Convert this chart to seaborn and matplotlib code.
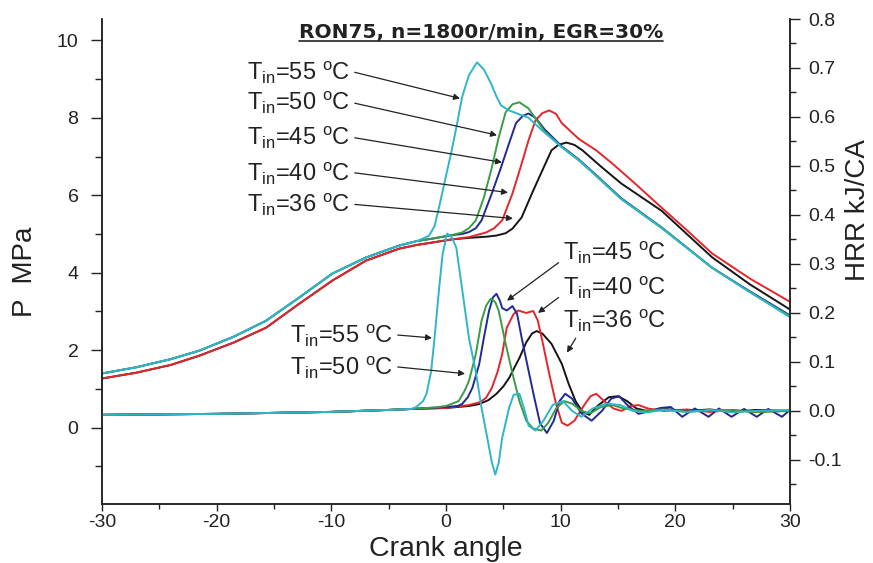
import matplotlib
matplotlib.use("Agg")
import matplotlib.pyplot as plt
from matplotlib.lines import Line2D
from matplotlib.ticker import MultipleLocator, FormatStrFormatter
import seaborn as sns
import pandas as pd

# ---------------- data ----------------
temps = ["55", "50", "45", "40", "36"]
colors = {"55": "#2db6c9", "50": "#3a9c45", "45": "#1f2a96", "40": "#e3262b", "36": "#151515"}

# compression part (shared)
comp_ca = [-30, -27, -24, -21.5, -18.5, -15.7, -12.8, -9.9, -7, -4.1, -2.5]
comp_hi = [1.40, 1.56, 1.77, 1.99, 2.35, 2.76, 3.36, 3.98, 4.39, 4.70, 4.82]
comp_lo = [1.27, 1.42, 1.62, 1.86, 2.20, 2.58, 3.20, 3.80, 4.31, 4.62, 4.72]

p55_ca = [-1.5, -1.0, -0.6, 0, 0.5, 1.0, 1.4, 2.0, 2.7, 3.3, 3.9, 4.4, 4.8, 5.5, 6.3, 7.2, 8.4, 10.1, 11.6, 13.1, 15.3, 18.8, 23.2, 26.5, 30]
p55 = [4.95, 5.2, 5.7, 6.5, 7.16, 7.9, 8.53, 9.1, 9.43, 9.25, 8.9, 8.55, 8.32, 8.19, 8.1, 8.0, 7.67, 7.24, 6.9, 6.5, 5.9, 5.15, 4.13, 3.5, 2.85]
p50_ca = [-1.2, 0.5, 1.4, 2.0, 2.6, 3.3, 4.0, 4.6, 5.2, 5.8, 6.4, 7.2, 8.0, 8.6, 10.1, 11.6, 13.1, 15.3, 18.8, 23.2, 26.5, 30]
p50 = [4.88, 4.97, 5.04, 5.15, 5.35, 5.94, 6.72, 7.5, 8.14, 8.35, 8.40, 8.24, 7.9, 7.65, 7.24, 6.9, 6.5, 5.9, 5.17, 4.13, 3.5, 2.88]
p45_ca = [-1.2, 0.5, 1.4, 2.0, 2.6, 3.1, 4.0, 4.8, 5.5, 6.1, 6.7, 7.2, 7.8, 8.6, 10.1, 11.6, 13.1, 15.3, 18.8, 23.2, 26.5, 30]
p45 = [4.88, 4.97, 5.0, 5.05, 5.15, 5.35, 6.05, 6.72, 7.34, 7.86, 8.05, 8.11, 8.0, 7.7, 7.26, 6.92, 6.52, 5.92, 5.17, 4.13, 3.52, 2.9]
p40_ca = [-1.2, 0.5, 2.0, 3.5, 4.2, 4.9, 5.8, 6.5, 7.2, 7.8, 8.4, 9.0, 9.6, 10.1, 11.6, 13.1, 14.5, 16.5, 18.8, 21, 23.2, 26.5, 30]
p40 = [4.78, 4.86, 4.92, 5.04, 5.15, 5.35, 6.05, 6.72, 7.42, 7.93, 8.12, 8.19, 8.1, 7.86, 7.45, 7.16, 6.82, 6.3, 5.68, 5.1, 4.5, 3.85, 3.25]
p36_ca = [-1.2, 0.5, 2.0, 3.5, 4.4, 5.2, 5.8, 6.6, 7.5, 8.4, 9.2, 9.8, 10.5, 11.2, 11.9, 13.6, 15.3, 18.8, 21, 23.2, 26.5, 30]
p36 = [4.78, 4.86, 4.9, 4.93, 4.96, 5.02, 5.14, 5.43, 6.05, 6.64, 7.16, 7.3, 7.36, 7.3, 7.16, 6.72, 6.3, 5.6, 5.0, 4.4, 3.7, 3.05]

# heat release rate (shared early baseline)
base_ca = [-30, -25, -20, -15, -10, -5, -3]
base_hrr = [-0.008, -0.007, -0.006, -0.004, -0.002, 0.002, 0.004]

h55_ca = [-2.6, -2.0, -1.7, -1.3, -1.0, -0.6, -0.3, 0.1, 0.5, 0.9, 1.4, 2.0, 2.6, 3.1, 3.6, 4.0, 4.3, 4.6, 4.9, 5.5, 5.9, 6.4, 6.8, 7.2, 7.8, 8.5, 9.3, 10.2, 11.0, 11.8, 12.8, 14.0, 15.2, 16.3, 17.5, 19, 21, 23, 25, 27, 30]
h55 = [0.008, 0.02, 0.035, 0.08, 0.149, 0.25, 0.32, 0.362, 0.355, 0.333, 0.25, 0.149, 0.08, 0.006, -0.055, -0.105, -0.13, -0.105, -0.055, 0.006, 0.033, 0.035, 0.006, -0.03, -0.04, -0.02, 0.012, 0.02, 0.0, -0.012, 0.005, 0.015, 0.012, 0.0, -0.003, 0.002, -0.002, 0.002, -0.003, 0.0, 0.002]
h50_ca = [-1, 0.0, 1.1, 1.6, 2.0, 2.6, 3.1, 3.5, 3.9, 4.3, 4.6, 5.2, 5.8, 6.4, 7.0, 7.6, 8.3, 8.9, 9.6, 10.3, 11.0, 11.8, 12.6, 13.5, 14.5, 15.5, 17, 19, 21, 24, 27, 30]
h50 = [0.007, 0.01, 0.02, 0.04, 0.061, 0.116, 0.184, 0.215, 0.229, 0.222, 0.204, 0.137, 0.076, 0.02, -0.02, -0.036, -0.04, -0.025, 0.005, 0.02, 0.015, 0.0, -0.005, 0.008, 0.012, 0.005, 0.0, 0.003, -0.002, 0.002, -0.002, 0.0]
h45_ca = [0, 1.0, 1.4, 1.9, 2.3, 2.9, 3.3, 3.75, 4.1, 4.4, 4.7, 4.9, 5.3, 5.8, 6.2, 6.6, 7.2, 7.7, 8.2, 8.8, 9.4, 9.9, 10.4, 11.0, 11.8, 12.7, 13.6, 14.4, 15.1, 15.9, 16.8, 17.8, 18.7, 19.6, 20.6, 21.7, 22.9, 23.8, 24.9, 26.0, 27.1, 28.1, 29.3, 30]
h45 = [0.008, 0.01, 0.014, 0.028, 0.047, 0.096, 0.149, 0.204, 0.232, 0.239, 0.225, 0.21, 0.205, 0.214, 0.198, 0.149, 0.082, 0.027, -0.025, -0.045, -0.02, 0.02, 0.035, 0.025, -0.005, -0.02, 0.0, 0.025, 0.03, 0.01, -0.006, 0.0, 0.006, 0.008, -0.012, 0.005, -0.012, 0.005, -0.012, 0.004, -0.012, 0.004, -0.012, 0.002]
h40_ca = [0, 2.0, 3.0, 3.5, 4.0, 4.5, 4.9, 5.3, 5.9, 6.3, 7.0, 7.6, 8.0, 8.4, 9.0, 9.6, 10.1, 10.6, 11.2, 12.0, 12.6, 13.1, 13.8, 14.6, 15.3, 16.1, 16.8, 17.6, 19, 21, 23, 25, 27, 30]
h40 = [0.006, 0.012, 0.018, 0.027, 0.047, 0.08, 0.116, 0.17, 0.198, 0.205, 0.2, 0.204, 0.185, 0.143, 0.076, 0.014, -0.024, -0.03, -0.02, 0.01, 0.03, 0.035, 0.02, 0.005, 0.0, 0.01, 0.012, 0.005, 0.0, 0.003, -0.002, 0.002, -0.002, 0.0]
h36_ca = [0, 2.0, 2.9, 3.7, 4.4, 5.0, 5.5, 6.0, 6.4, 7.0, 7.5, 7.9, 8.4, 9.2, 10.1, 10.7, 11.3, 11.9, 12.5, 13.2, 14.2, 15.0, 15.8, 16.6, 17.5, 19, 21, 23, 25, 27, 30]
h36 = [0.006, 0.01, 0.014, 0.022, 0.035, 0.05, 0.067, 0.09, 0.108, 0.14, 0.158, 0.163, 0.158, 0.137, 0.096, 0.055, 0.02, -0.002, -0.008, 0.01, 0.028, 0.03, 0.02, 0.005, 0.0, 0.004, 0.0, 0.003, -0.002, 0.002, 0.0]

# annotation positions: (text x, text y, arrow x, arrow y)
p_labels = {"55": (-17.35, 9.17, 1.22, 8.5), "50": (-17.35, 8.37, 4.45, 7.55),
            "45": (-17.35, 7.47, 4.88, 6.85), "40": (-17.35, 6.56, 5.41, 6.07),
            "36": (-17.35, 5.74, 5.84, 5.4)}
h_labels = {"55": (-13.6, 0.153, -1.22, 0.149), "50": (-13.6, 0.088, 1.66, 0.076),
            "45": (10.2, 0.323, 5.32, 0.225), "40": (10.2, 0.252, 8.02, 0.2),
            "36": (10.2, 0.184, 10.55, 0.119)}

p_series = {"55": (p55_ca, p55, "hi"), "50": (p50_ca, p50, "hi"), "45": (p45_ca, p45, "hi"),
            "40": (p40_ca, p40, "lo"), "36": (p36_ca, p36, "lo")}
h_series = {"55": (h55_ca, h55), "50": (h50_ca, h50), "45": (h45_ca, h45),
            "40": (h40_ca, h40), "36": (h36_ca, h36)}

# ---------------- style ----------------
sns.set_style("ticks")
plt.rcParams["font.family"] = ["Liberation Sans", "DejaVu Sans"]
plt.rcParams["mathtext.fontset"] = "custom"
plt.rcParams["mathtext.rm"] = "Liberation Sans"
plt.rcParams["mathtext.it"] = "Liberation Sans"
plt.rcParams["axes.unicode_minus"] = False
txt_color = "#222222"

fig = plt.figure(figsize=(8.73, 5.63), dpi=100)
ax_bottom_px, ax_top_px = 504, 19
ax = fig.add_axes([102 / 873, 1 - ax_bottom_px / 563, 688 / 873,
                   (ax_bottom_px - ax_top_px) / 563])
ax2 = ax.twinx()

draw_order = ["36", "40", "45", "50", "55"]
for t in draw_order:
    ca, p, kind = p_series[t]
    comp = comp_hi if kind == "hi" else comp_lo
    df = pd.DataFrame({"ca": comp_ca + ca, "p": comp + p})
    sns.lineplot(data=df, x="ca", y="p", ax=ax, color=colors[t], lw=1.4,
                 sort=False, estimator=None)
for t in draw_order:
    ca, h = h_series[t]
    df = pd.DataFrame({"ca": base_ca + ca, "h": base_hrr + h})
    sns.lineplot(data=df, x="ca", y="h", ax=ax2, color=colors[t], lw=1.4,
                 sort=False, estimator=None)

ax.set_xlim(-30, 30)
ax.set_ylim(-1.97, 10.55)
ax2.set_ylim(-0.19, 0.8)

ax.xaxis.set_major_locator(MultipleLocator(10))
ax.xaxis.set_minor_locator(MultipleLocator(5))
ax.yaxis.set_major_locator(MultipleLocator(2))
ax.yaxis.set_minor_locator(MultipleLocator(1))
ax2.yaxis.set_major_locator(MultipleLocator(0.1))
ax2.yaxis.set_minor_locator(MultipleLocator(0.05))
ax2.yaxis.set_major_formatter(FormatStrFormatter("%.1f"))

for a in (ax, ax2):
    a.tick_params(which="both", direction="out", width=1.0, color="#222222",
                  labelsize=14, labelcolor=txt_color)
    for s in a.spines.values():
        s.set_linewidth(1.1)
        s.set_color("#222222")
    a.spines["top"].set_visible(False)
ax.tick_params(axis="x", which="major", length=5, pad=2)
ax.tick_params(axis="x", which="minor", length=3.5)
ax.tick_params(axis="y", which="major", length=8, pad=9)
ax.tick_params(axis="y", which="minor", length=5)
ax2.tick_params(axis="y", which="major", length=7, pad=6)
ax2.tick_params(axis="y", which="minor", length=4)

ax.set_xlabel("Crank angle", fontsize=20.5, color=txt_color)
ax.set_ylabel("P  MPa", fontsize=20, color=txt_color)
ax2.set_ylabel("HRR kJ/CA", fontsize=20, color=txt_color)
ax.xaxis.set_label_coords(0.5, -0.066)
ax.yaxis.set_label_coords(-0.093, 0.478)
ax2.yaxis.set_label_coords(1.080, 0.606)

def lab(t):
    return r"T$_{\mathrm{in}}$=" + t + r" $^{\mathrm{o}}$C"

arrow_kw = dict(arrowstyle="-|>", color="#222222", lw=0.9, mutation_scale=9,
                shrinkA=1, shrinkB=0)
for t, (tx, ty, axx, ayy) in p_labels.items():
    ax.annotate(lab(t), xy=(axx, ayy), xytext=(tx, ty), fontsize=17, color=txt_color,
                ha="left", va="center",
                arrowprops=dict(relpos=(1.0, 0.55), **arrow_kw))
relposes = {"55": (1.0, 0.55), "50": (1.0, 0.55), "45": (0.02, 0.3),
            "40": (0.02, 0.3), "36": (0.15, 0.0)}
for t, (tx, ty, axx, ayy) in h_labels.items():
    ax2.annotate(lab(t), xy=(axx, ayy), xytext=(tx, ty), fontsize=17, color=txt_color,
                 ha="left", va="center",
                 arrowprops=dict(relpos=relposes[t], **arrow_kw))

title = ax.text(0.551, 0.973, "RON75, n=1800r/min, EGR=30%", transform=ax.transAxes,
                ha="center", va="center", fontsize=14.5, fontweight="bold",
                family="DejaVu Sans", color=txt_color)

fig.canvas.draw()
bb = title.get_window_extent(fig.canvas.get_renderer())
inv = fig.transFigure.inverted()
(x0, y0), (x1, y1) = inv.transform([(bb.x0, bb.y0 + 1), (bb.x1, bb.y0 + 1)])
fig.add_artist(Line2D([x0, x1], [y0, y1], transform=fig.transFigure, color=txt_color, lw=1.2))

fig.savefig("out.png", dpi=100)
